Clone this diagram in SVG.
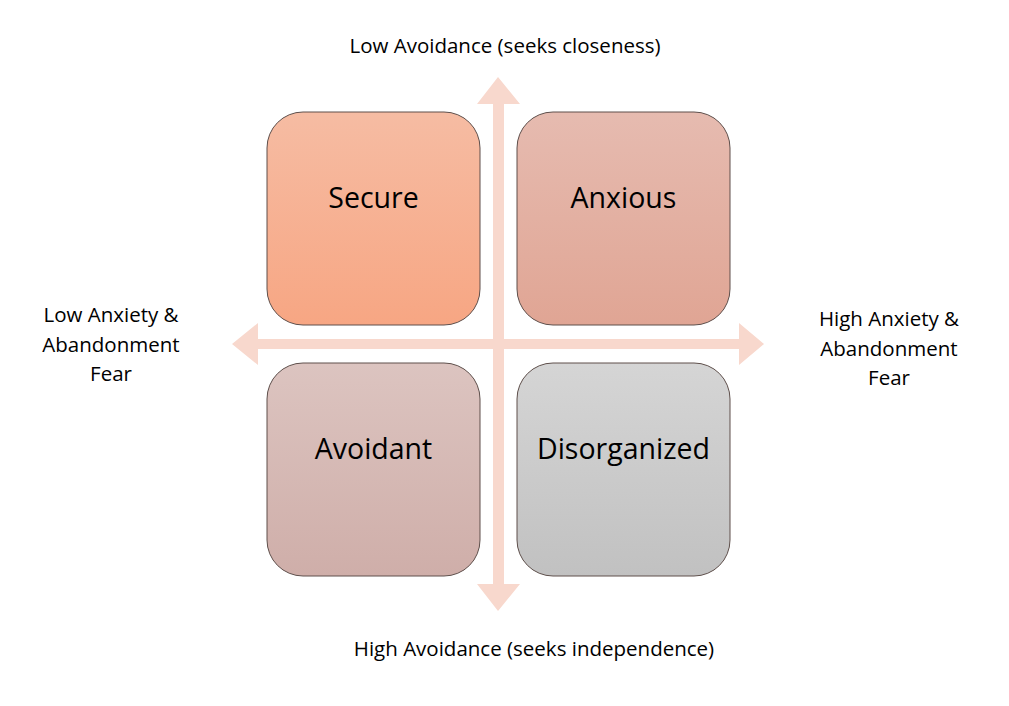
<svg xmlns="http://www.w3.org/2000/svg" width="1009" height="706" viewBox="0 0 1009 706">
  <defs>
    <linearGradient id="gSecure" x1="0" y1="0" x2="0" y2="1">
      <stop offset="0" stop-color="#F6BCA3"/>
      <stop offset="1" stop-color="#F7A683"/>
    </linearGradient>
    <linearGradient id="gAnxious" x1="0" y1="0" x2="0" y2="1">
      <stop offset="0" stop-color="#E6BBB0"/>
      <stop offset="1" stop-color="#E0A594"/>
    </linearGradient>
    <linearGradient id="gAvoidant" x1="0" y1="0" x2="0" y2="1">
      <stop offset="0" stop-color="#DCC4C0"/>
      <stop offset="1" stop-color="#CFAEA9"/>
    </linearGradient>
    <linearGradient id="gDisorg" x1="0" y1="0" x2="0" y2="1">
      <stop offset="0" stop-color="#D5D5D5"/>
      <stop offset="1" stop-color="#C1C1C1"/>
    </linearGradient>
  </defs>
  <style>
    .box { stroke: #5E4F4B; stroke-width: 1; }
    .lbl { font-family: "Open Sans", "Liberation Sans", sans-serif; font-size: 28.5px; fill: #000; text-anchor: middle; }
    .axis { font-family: "Open Sans", "Liberation Sans", sans-serif; font-size: 20.5px; fill: #000; text-anchor: middle; }
    .arrow { fill: #F8D8CD; }
  </style>
  <rect width="1009" height="706" fill="#FFFFFF"/>
  <g id="connectors">
    <polygon class="arrow" points="498,77 520,104 504,104 504,584 520,584 498,611 477,584 493,584 493,104 477,104"/>
    <polygon class="arrow" points="232,344 258,323 258,339 739,339 739,323 764,344 739,365 739,349 258,349 258,365"/>
  </g>
  <g id="node-secure">
    <rect class="box" x="267" y="112" width="213" height="213" rx="36" ry="36" fill="url(#gSecure)"/>
    <text class="lbl" x="373.5" y="208">Secure</text>
  </g>
  <g id="node-anxious">
    <rect class="box" x="517" y="112" width="213" height="213" rx="36" ry="36" fill="url(#gAnxious)"/>
    <text class="lbl" x="623.5" y="208">Anxious</text>
  </g>
  <g id="node-avoidant">
    <rect class="box" x="267" y="363" width="213" height="213" rx="36" ry="36" fill="url(#gAvoidant)"/>
    <text class="lbl" x="373.5" y="459">Avoidant</text>
  </g>
  <g id="node-disorganized">
    <rect class="box" x="517" y="363" width="213" height="213" rx="36" ry="36" fill="url(#gDisorg)"/>
    <text class="lbl" x="623.5" y="459">Disorganized</text>
  </g>
  <g id="label-top">
    <text class="axis" x="505" y="53">Low Avoidance (seeks closeness)</text>
  </g>
  <g id="label-bottom">
    <text class="axis" x="534" y="656">High Avoidance (seeks independence)</text>
  </g>
  <g id="label-left">
    <text class="axis" x="111" y="322">Low Anxiety &amp;</text>
    <text class="axis" x="111" y="352">Abandonment</text>
    <text class="axis" x="111" y="381">Fear</text>
  </g>
  <g id="label-right">
    <text class="axis" x="889" y="326">High Anxiety &amp;</text>
    <text class="axis" x="889" y="356">Abandonment</text>
    <text class="axis" x="889" y="385">Fear</text>
  </g>
</svg>
